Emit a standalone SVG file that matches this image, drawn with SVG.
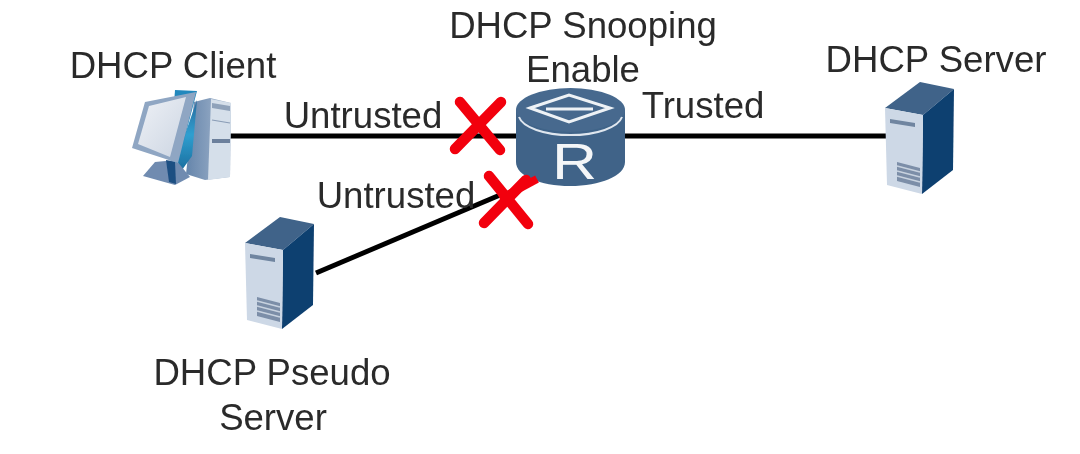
<svg xmlns="http://www.w3.org/2000/svg" width="1080" height="454" viewBox="0 0 1080 454">
<style>
text{font-family:"Liberation Sans",Arial,sans-serif;font-size:36.600px;fill:#2b2b2b}
.c{text-anchor:middle}
.ln{stroke:#000;stroke-width:5;fill:none}
.x{stroke:#f2000f;stroke-width:10.500;stroke-linecap:round;fill:none}
</style>
<defs>
<filter id="soft" x="-5%" y="-5%" width="110%" height="110%"><feGaussianBlur stdDeviation="0.700"/></filter>
<linearGradient id="scr" x1="0" y1="0" x2="1" y2="1"><stop offset="0" stop-color="#eef1f6"/><stop offset="1" stop-color="#ccd5e2"/></linearGradient>
<linearGradient id="blu" x1="0" y1="0" x2="0" y2="1"><stop offset="0" stop-color="#2a6a9c"/><stop offset=".5" stop-color="#2f9fd0"/><stop offset="1" stop-color="#1c6f9f"/></linearGradient>
<linearGradient id="sid" x1="0" y1="0" x2="1" y2="0"><stop offset="0" stop-color="#6585ab"/><stop offset="1" stop-color="#a9bad0"/></linearGradient>
<g id="srv">
<path d="M885 108L920 82L954 89L923 115Z" fill="#3f6389"/>
<path d="M923 115L954 89L953 170L922 194Z" fill="#0f3f70"/>
<path d="M885 108L923 115L922 194L887 185Z" fill="#cdd8e6"/>
<path d="M890 119L915 123L915 127L890 123Z" fill="#6f85a0"/>
<path d="M897 162L920 168L920 187L897 181Z" fill="#7b8ea8"/>
<path d="M897 166L920 172M897 171L920 177M897 176L920 182" stroke="#c8d2df" stroke-width="1.500" fill="none"/>
</g>
</defs>
<rect width="1080" height="454" fill="#fff"/>
<g filter="url(#soft)">
<g id="connectors">
<path class="ln" d="M230 136H520"/>
<path class="ln" d="M620 136H886"/>
<path class="ln" d="M316 273L500 195"/>
</g>
<g id="client">
<path d="M194 102L210 98L231 103L230 177L205 180L186 174Z" fill="url(#sid)"/>
<path d="M211 99L231 103L230 177L208 180Z" fill="#d5dfea"/>
<path d="M212 103L230 106V111L212 108Z" fill="#8fa2ba"/>
<path d="M212 120L230 123" stroke="#8a9db6" stroke-width="1.200"/>
<path d="M212 139H230V143H212Z" fill="#6c809c"/>
<path d="M197 100L192 156L182 170L176 160Z" fill="url(#blu)"/>
<path d="M155 162L143 176L175 185L190 177L176 160Z" fill="#6f8bb0"/>
<path d="M166 160L175 162L176 184L169 182Z" fill="#1f4f82"/>
<path d="M175 90L197 91L178 163L170 160Z" fill="#2388bd"/>
<path d="M145 102L196 92L178 163L132 148Z" fill="#8fa6c3"/>
<path d="M149 106L186 97L170 157L138 144Z" fill="url(#scr)"/>
</g>
<g id="router">
<path d="M516 110V162C516 176 540 186 570 186C600 186 625 176 625 162V110Z" fill="#3f6388"/>
<ellipse cx="570.500" cy="110" rx="54.500" ry="22" fill="#46698e"/>
<path d="M519 117A52 21 0 0 0 622 117" fill="none" stroke="#dfe6ee" stroke-width="2"/>
<path d="M530 108L569 95L610 108L569 122Z" fill="none" stroke="#eef2f6" stroke-width="3"/>
<path d="M546 109H593" stroke="#eef2f6" stroke-width="3"/>
<text transform="translate(574.500 178.500) scale(1.250 1)" class="c" style="font-size:50px;fill:#f4f6f8">R</text>
</g>
<g id="server"><use href="#srv"/></g>
<g id="pseudo"><use href="#srv" x="-640" y="135"/></g>
<g id="marks">
<path d="M537 179L500 199" stroke="#f2000f" stroke-width="8"/>
<path class="x" d="M501 102L455 149"/><path class="x" d="M460 102L500 150"/>
<path class="x" d="M489 176L528 224"/><path class="x" d="M526 180L484 223"/>
</g>
<g id="labels">
<text x="173" y="78" class="c">DHCP Client</text>
<text x="583" y="38" class="c">DHCP Snooping</text>
<text x="583" y="82" class="c">Enable</text>
<text x="936" y="72" class="c">DHCP Server</text>
<text x="363" y="128" class="c">Untrusted</text>
<text x="703" y="118" class="c">Trusted</text>
<text x="396" y="208" class="c">Untrusted</text>
<text x="272" y="385" class="c">DHCP Pseudo</text>
<text x="273" y="430" class="c">Server</text>
</g>
</g>
</svg>
